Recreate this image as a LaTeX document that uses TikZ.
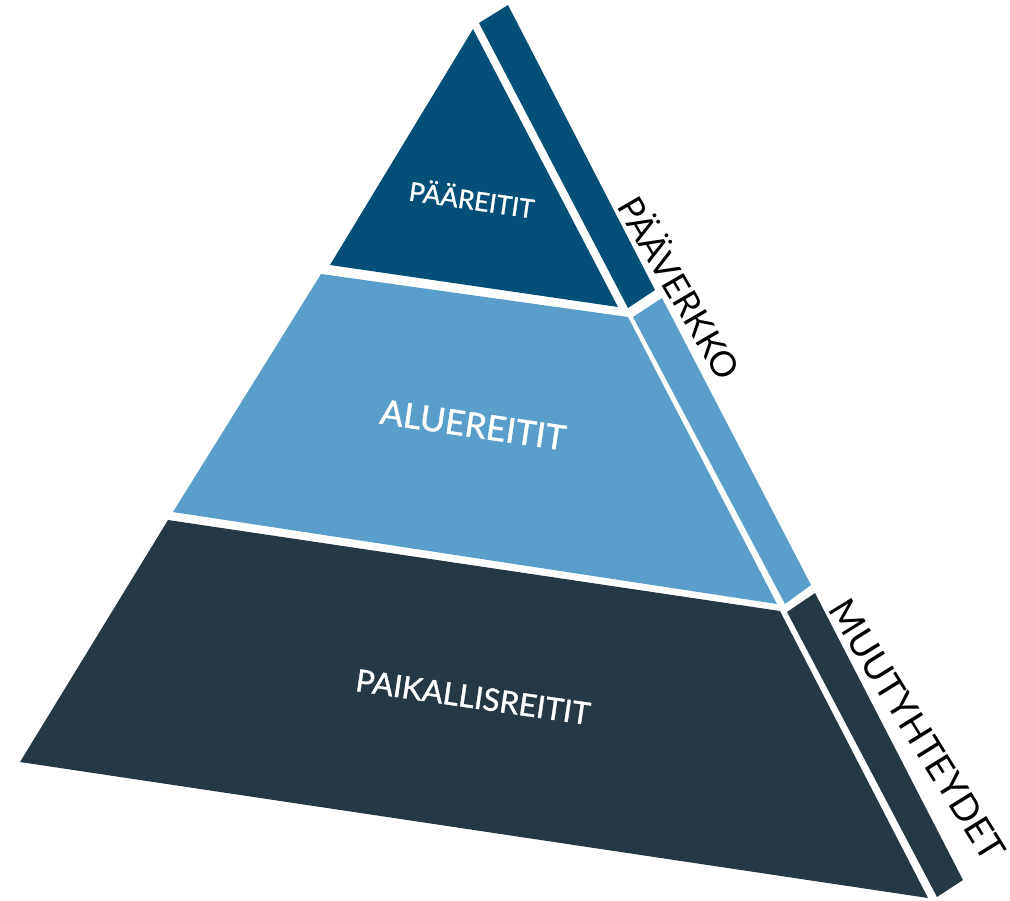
\documentclass[tikz,border=0pt]{standalone}
\usepackage{fontspec}
\newfontfamily\labelfont{Lato}
\newfontfamily\innerfont[FakeBold=1.2]{Lato}
\definecolor{topblue}{HTML}{034F78}
\definecolor{midblue}{HTML}{5A9FC9}
\definecolor{lowslate}{HTML}{263843}
\tikzset{
  inlabel/.style={text=white, inner sep=0pt, font=\innerfont},
  sidelabel/.style={text=black, inner sep=0pt, font=\labelfont}
}

\begin{document}
\begin{tikzpicture}[x=0.02cm, y=-0.02cm]
	%%%%% START %%%%%
	\useasboundingbox (0, 0) rectangle (1010, 900);
	
	% front face
	\fill[topblue] (473, 29) -- (618, 307) -- (330, 265) -- cycle;
	\fill[midblue] (321, 274) -- (628, 317) -- (777, 604) -- (173, 512) -- cycle;
	\fill[lowslate] (168, 520) -- (780, 611) -- (928, 898) -- (20, 762) -- cycle;
	
	% side strips
	\fill[topblue] (479, 23) -- (508, 5) -- (655, 290) -- (628, 308) -- cycle;
	\fill[midblue] (633, 317) -- (662, 298) -- (811, 585) -- (785, 604) -- cycle;
	\fill[lowslate] (787, 612) -- (815, 593) -- (963, 880) -- (937, 897) -- cycle;
	
	\node[inlabel, rotate=-8.3] (paareitit) at (472, 198) {\fontsize{14.8}{15}\selectfont PÄÄREITIT};
	\node[inlabel, rotate=-8.3] (aluereitit) at (473, 425) {\fontsize{19.6}{20}\selectfont ALUEREITIT};
	\node[inlabel, rotate=-8.3] (paikallis) at (473, 697) {\fontsize{17.6}{18}\selectfont PAIKALLISREITIT};
	
	\node[sidelabel, rotate=-59.7] (paaverkko) at (681, 287) {\fontsize{20}{20}\selectfont PÄÄVERKKO};
	\node[sidelabel, rotate=-58.2] (muut) at (917, 730) {\fontsize{21}{21}\selectfont MUUTYHTEYDET};
	%%%%% END %%%%%
\end{tikzpicture}
\end{document}
